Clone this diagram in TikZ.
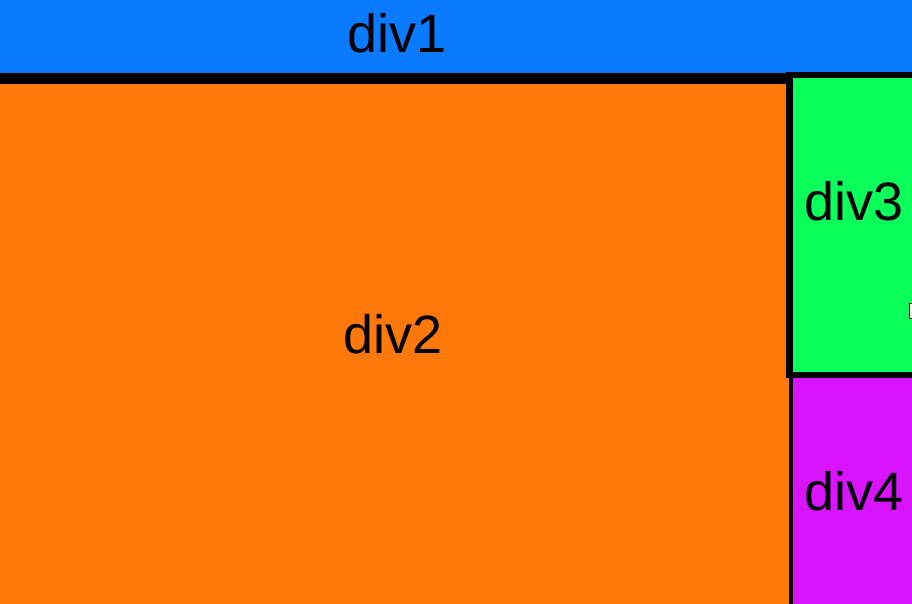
\documentclass[tikz,border=0pt]{standalone}
\usepackage{fontspec}
\setmainfont{Liberation Sans}
\definecolor{cblue}{HTML}{0A7AFF}
\definecolor{corange}{HTML}{FF780A}
\definecolor{cgreen}{HTML}{0AFF5A}
\definecolor{cmag}{HTML}{D814FF}
\tikzset{
  lbl/.style={font=\fontsize{54}{60}\selectfont, text=black, inner sep=0pt, anchor=base},
  bar/.style={fill=black, draw=none}
}
\begin{document}
\begin{tikzpicture}[x=1pt,y=-1pt]
\useasboundingbox (0,0) rectangle (912,604);
% fills
\fill[cblue] (0,0) rectangle (912,74);
\fill[corange] (0,84) rectangle (789,604);
\fill[cgreen] (793,78) rectangle (912,372);
\fill[cmag] (793,378) rectangle (912,604);
% borders
\fill[bar] (0,73.5) rectangle (793,84);
\fill[bar] (786,72) rectangle (912,78);
\fill[bar] (786,72) rectangle (793,378);
\fill[bar] (786,372) rectangle (912,378);
\fill[bar] (789,378) rectangle (793,604);
% small mark
\filldraw[fill=white, draw=black, line width=1pt] (909.5,303) rectangle (914,318);
% labels
\node[lbl] (div1) at (397.5,53) {div1};
\node[lbl] (div2) at (393.5,353) {div2};
\node[lbl] (div3) at (854,220) {div3};
\node[lbl] (div4) at (854,510) {div4};
\end{tikzpicture}
\end{document}
